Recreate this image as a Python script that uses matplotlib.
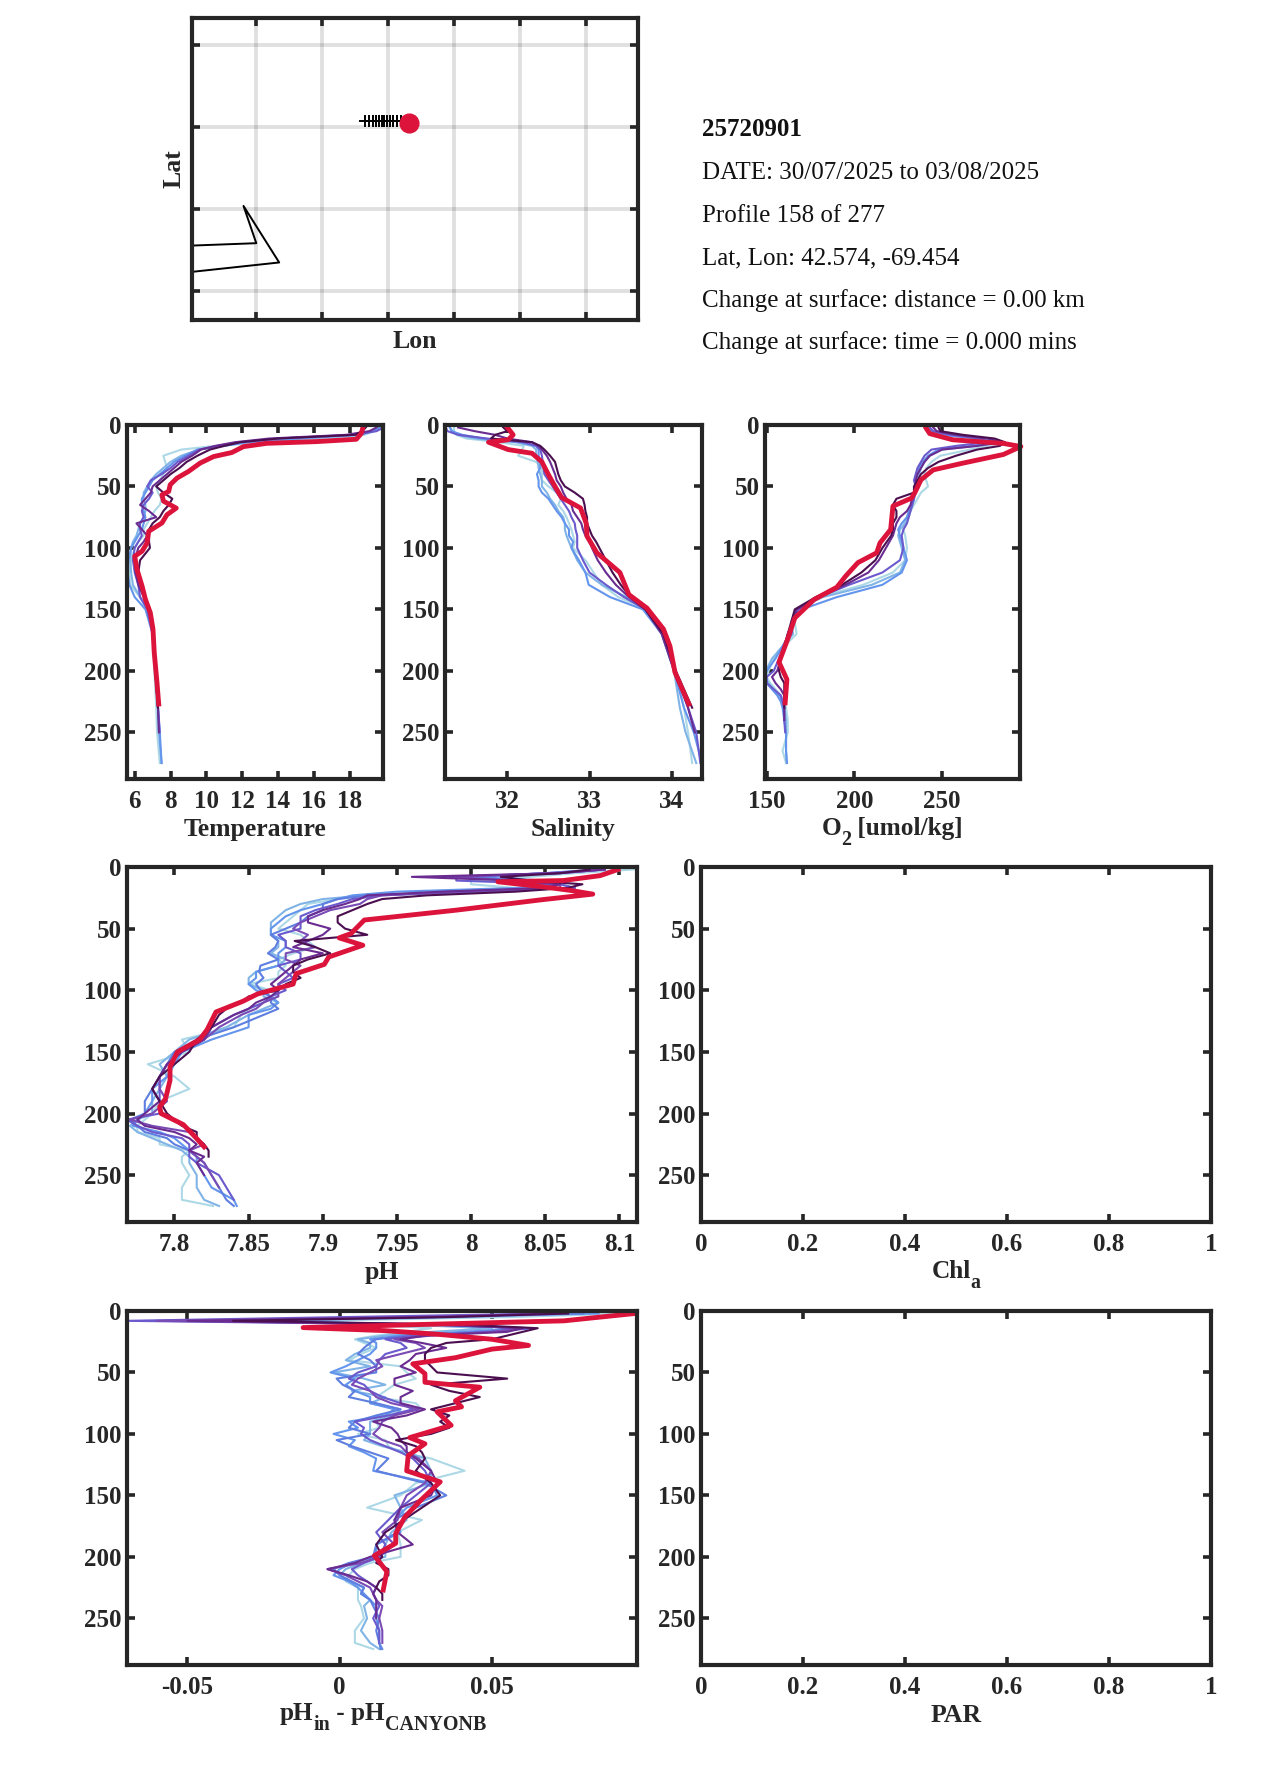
import matplotlib
matplotlib.use('Agg')
import matplotlib.pyplot as plt

plt.rcParams['font.family'] = ['Liberation Serif', 'DejaVu Serif']
plt.rcParams['font.weight'] = 'bold'

DARK = '#262626'
RED = '#dc143c'
profile_colors = ['#add8e6', '#80b4e6', '#6495ed', '#6a5acd', '#6a2c91', '#4b0f50']
dense_colors = ['#add8e6', '#80b4e6', '#6495ed', '#5f7fe0', '#6a5acd', '#7a4bb5', '#6a2c91', '#4b0f50']

# depth grids shared by the thin profiles
z_ctd = [2,5,8,11,14,17,20,25,30,35,40,45,50,55,60,65,70,75,80,85,90,95,100,110,120,130,140,150,170,200,230,250,275]
z_oxy = [2,5,8,11,14,17,20,25,30,35,40,45,50,55,60,65,70,75,80,85,90,100,110,120,130,140,150,160,170,180,190,200,205,210,215,220,225,230,240,250,265,275]
z_ph = [2,5,8,11,14,17,20,23,26,30,35,40,45,50,55,60,65,70,75,80,85,90,95,100,105,110,115,120,130,140,150,160,170,180,190,200,205,210,215,220,225,230,235,240,250,260,270,275]

# temperature
temp_1 = [19.8,19.4,18.8,17,13.5,10.5,8.6,7.6,7.7,7.8,7.6,7.4,7.2,7.3,7.5,7.4,7.1,6.9,6.7,6.5,6.5,6.2,6.0,5.8,5.7,5.75,6.3,6.7,7.0,7.1,7.2,7.25,7.4]
temp_2 = [19.6,19.2,18.3,15.5,12,10.8,9.6,8.6,8,7.6,7.2,6.9,6.7,6.5,6.5,6.6,6.6,6.5,6.3,6.2,6.1,5.9,5.8,5.75,5.8,5.9,6.3,6.8,7.0,7.15,7.3,7.35,7.5]
temp_3 = [19.7,19.3,18.6,15,12.3,11,9.5,8.8,8.2,7.8,7.4,7,6.8,6.6,6.4,6.4,6.5,6.6,6.5,6.4,6.2,6,5.8,5.65,5.6,5.7,6,6.6,7,7.15,7.3,7.4,7.5]
temp_4 = [19.9,19.5,18.2,14,11.8,10.6,9.6,9,8.4,8,7.5,6.9,6.7,7.0,6.8,6.5,6.4,6.5,6.3,6.3,6.4,6.2,6,5.9,6,6.2,6.3,6.7,7,7.15,7.3,7.4]
temp_5 = [19.5,19.1,17.8,13.5,11.6,10.5,9.7,9.2,8.6,8.2,7.8,7.4,7,6.9,6.6,6.3,6.8,7.2,6.1,6.4,6.7,6.5,6.2,6.0,6.05,6.2,6.5,6.85,7.05,7.15,7.3,7.35]
temp_6 = [18.9,18.7,18.3,14,11.9,11,10.2,9.5,8.9,8.5,8,7.6,7.2,7.6,8.1,7.9,7.6,7.4,7.0,6.8,6.8,6.8,6.85,6.3,6.2,6.4,6.6,6.85,7.05,7.15,7.3]
temp_red = [18.75,18.65,18.37,16.15,13.37,12.07,11.42,10.4,9.65,9.0,8.36,7.98,7.9,7.52,7.61,8.32,7.8,7.52,6.78,6.69,6.41,6.0,6.13,6.41,6.6,6.87,7.02,7.09,7.24,7.34]
temp_red_z = [1.4,6.8,11.6,13.5,14.9,17.6,22.4,25.7,31,37.8,43.2,48.6,54,56.8,62,67.6,73,79.7,86.5,96,102.7,106.8,117.6,131,142,152.7,166,185,209,227]

# salinity
sal_1 = [31.35,31.35,31.38,31.5,31.9,32.2,32.18,32.13,32.35,32.42,32.42,32.42,32.5,32.6,32.65,32.62,32.68,32.72,32.75,32.78,32.8,32.82,32.8,32.95,33.05,33.15,33.35,33.7,33.88,34.05,34.15,34.2,34.25]
sal_2 = [31.3,31.33,31.4,31.6,32.1,32.3,32.35,32.35,32.37,32.38,32.4,32.42,32.42,32.48,32.52,32.58,32.62,32.68,32.7,32.7,32.72,32.75,32.78,32.85,32.95,33.15,33.45,33.68,33.88,34.03,34.1,34.17,34.3]
sal_3 = [31.3,31.32,31.45,31.7,32.15,32.35,32.38,32.38,32.4,32.4,32.36,32.38,32.38,32.42,32.5,32.55,32.6,32.66,32.7,32.75,32.75,32.8,32.78,32.87,32.95,32.99,33.25,33.65,33.88,34.03,34.15,34.27,34.37]
sal_4 = [31.25,31.27,31.4,31.75,32.2,32.35,32.4,32.42,32.43,32.44,32.45,32.5,32.55,32.6,32.65,32.7,32.75,32.78,32.82,32.83,32.85,32.85,32.85,32.92,33.0,33.2,33.42,33.68,33.9,34.05,34.2,34.3,34.35]
sal_5 = [31.4,31.6,31.85,32.0,32.3,32.38,32.42,32.48,32.52,32.55,32.58,32.6,32.65,32.68,32.72,32.78,32.8,32.85,32.9,32.92,32.95,33.0,33.03,33.1,33.2,33.32,33.48,33.68,33.88,34.03,34.2,34.28]
sal_6 = [31.95,32.0,31.85,31.8,32.3,32.4,32.45,32.52,32.58,32.6,32.62,32.65,32.7,32.82,32.92,32.94,32.95,32.97,32.97,33.0,33.03,33.08,33.12,33.2,33.28,33.38,33.5,33.68,33.9,34.05,34.25]
sal_red = [32.0,32.07,32.01,31.77,32.01,32.3,32.42,32.5,32.58,32.66,32.89,32.96,32.97,33.09,33.37,33.48,33.7,33.9,33.98,34.04,34.15,34.21]
sal_red_z = [2,8,12,14,20,23,30,40.5,50,59,67.5,80,90.5,104,120,138,149,166,180,201,218,227]

# oxygen
oxy_1 = [241,243,252,272,284,276,266,249,244,241,240,241,242,238,236,234,232,230,228,228,229,230,229,222,205,180,168,166,167,160,154,151,150,152,155,158,160,161,162,162,159,161]
oxy_2 = [242,244,255,274,282,270,250,243,240,238,237,237,237,235,234,233,232,231,229,226,225,227,229,226,210,182,167,164,165,159,153,149.5,149,151,154,157,159,160,161,161,161,161.5]
oxy_3 = [242,243,250,270,280,268,248,242,239,237,236,235,236,235,234,233,231,230,227,225,226,228,230,227,216,190,170,165,163,159,155,150,149,150,153,156,158,159,160,161,161,161.5]
oxy_4 = [243,245,255,272,276,258,244,240,238,236,235,234,235,234,234,233,232,231,230,228,227,228,226,216,197,180,168,165,164,160,157,154,150,150,154,158,159,160,160,160.5]
oxy_5 = [245,247,258,276,284,270,250,243,240,238,236,235,235,234,233,232,230,226,224,223,222,218,214,208,195,180,167,165,162,160,158,156,153,155,158,160,160,160,160]
oxy_6 = [248,249,262,280,286,283,270,258,248,242,238,236,234,234,224,222,224,224,222,222,221,216,212,204,193,178,166,164,162,160,158,157,158,160,160,160,160,160]
oxy_red = [241,243,256,285,295,285,262,245,238,234.5,232.6,222,220.7,214.6,212.7,202,195,190,177,166,162,157,161.5,160.5]
oxy_red_z = [2.7,7,12,15,17.5,24,31,36.5,44.6,55,59.5,66,85,96,104,112,123,132,142,157,174,193,207,226]

# pH
ph_1 = [8.11,8.07,8.04,8.0,8.0,8.03,7.98,7.93,7.91,7.89,7.885,7.88,7.875,7.87,7.885,7.89,7.895,7.88,7.87,7.875,7.87,7.87,7.85,7.865,7.87,7.86,7.85,7.845,7.84,7.805,7.81,7.782,7.80,7.81,7.79,7.785,7.78,7.775,7.775,7.79,7.79,7.81,7.805,7.805,7.81,7.805,7.805,7.826]
ph_2 = [8.09,8.06,8.02,8.04,8.06,8.07,8.0,7.93,7.9,7.885,7.875,7.87,7.865,7.865,7.865,7.87,7.87,7.865,7.875,7.87,7.855,7.85,7.85,7.86,7.86,7.87,7.86,7.85,7.835,7.81,7.8,7.79,7.795,7.79,7.785,7.785,7.775,7.77,7.775,7.785,7.795,7.805,7.81,7.81,7.815,7.815,7.82,7.83]
ph_3 = [8.09,8.05,8.0,8.05,8.06,8.03,7.95,7.92,7.91,7.9,7.885,7.875,7.87,7.865,7.865,7.875,7.875,7.87,7.87,7.87,7.855,7.855,7.85,7.855,7.865,7.87,7.865,7.85,7.85,7.825,7.805,7.8,7.795,7.785,7.785,7.78,7.775,7.772,7.79,7.8,7.805,7.81,7.815,7.815,7.82,7.825,7.84,7.842]
ph_4 = [8.09,8.06,7.99,7.99,8.06,8.07,8.0,7.94,7.92,7.91,7.895,7.885,7.885,7.885,7.87,7.875,7.875,7.885,7.885,7.87,7.875,7.88,7.87,7.875,7.865,7.86,7.85,7.84,7.825,7.82,7.805,7.795,7.79,7.79,7.79,7.79,7.768,7.775,7.785,7.805,7.81,7.81,7.81,7.815,7.83,7.835,7.84]
ph_5 = [8.09,8.06,7.96,8.03,8.06,8.05,7.98,7.93,7.925,7.915,7.9,7.89,7.89,7.905,7.9,7.89,7.88,7.9,7.885,7.88,7.875,7.87,7.865,7.87,7.865,7.855,7.85,7.84,7.825,7.82,7.805,7.795,7.79,7.785,7.79,7.78,7.775,7.78,7.8,7.81,7.815,7.81,7.82,7.815,7.82]
ph_6 = [8.08,8.06,8.02,8.04,8.075,8.065,8.03,7.97,7.94,7.93,7.92,7.91,7.91,7.915,7.93,7.881,7.895,7.905,7.89,7.88,7.88,7.885,7.875,7.87,7.85,7.845,7.835,7.83,7.825,7.815,7.81,7.8,7.79,7.785,7.79,7.795,7.8,7.805,7.815,7.815,7.82,7.823,7.823]
ph_7 = [8.085,8.05,8.0,8.03,8.05,8.05,8.0,7.93,7.91,7.9,7.9,7.89,7.885,7.875,7.865,7.87,7.868,7.863,7.87,7.858,7.857,7.86,7.855,7.858,7.865,7.865,7.87,7.86,7.84,7.815,7.80,7.795,7.79,7.785,7.78,7.78,7.77,7.775,7.78,7.795,7.8,7.81,7.815,7.82,7.825,7.83,7.835,7.84]
ph_8 = [8.09,8.055,7.985,8.03,8.06,8.06,7.99,7.94,7.93,7.925,7.905,7.895,7.885,7.88,7.89,7.885,7.895,7.875,7.875,7.885,7.88,7.875,7.87,7.87,7.87,7.86,7.855,7.845,7.83,7.82,7.805,7.795,7.79,7.79,7.795,7.785,7.77,7.785,7.81,7.815,7.82,7.81,7.815,7.82,7.825,7.83]
ph_red = [8.099,8.087,8.062,8.018,8.048,8.067,8.082,8.048,7.99,7.928,7.919,7.911,7.927,7.904,7.901,7.882,7.88,7.856,7.846,7.828,7.822,7.817,7.802,7.797,7.797,7.794,7.79,7.791,7.806,7.814,7.82]
ph_red_z = [2,7,11,12,16,19,22,26.5,35,43,54,57.5,63.5,73,79,86.5,95,103,109,117.6,132,140,150,162,173,188,194.6,200,209,219,227]

# pH minus CANYON-B
dph_1 = [.095,.055,-.01,.01,.03,.022,.012,.005,.008,.012,.007,.003,.02,.022,.025,.018,.015,.012,.025,.027,.012,.012,.013,.006,.015,.016,.02,.03,.041,.025,.02,.009,.027,.019,.02,.02,.01,.005,.003,.002,.006,.006,.006,.007,.008,.005,.005,.011]
dph_2 = [.08,.04,-.02,.02,.05,.03,.015,.006,.01,.01,.005,.002,.01,-.002,.008,.015,.004,.015,.01,.02,.018,.01,.01,.01,.008,.014,.022,.028,.03,.03,.018,.02,.022,.017,.015,.015,.007,.002,.0,.003,.008,.007,.01,.008,.009,.007,.01,.013]
dph_3 = [.085,.03,-.03,.03,.06,.04,.02,.01,.012,.012,.01,.006,.002,-.003,.005,.002,.005,.01,.01,.018,.015,.003,.006,-.002,.005,.003,.008,.012,.011,.03,.032,.022,.018,.02,.012,.012,.004,.0,-.002,.003,.006,.008,.01,.012,.012,.013,.013,.014]
dph_4 = [.07,.0,-.07,.03,.063,.05,.025,.015,.02,.022,.015,.013,.012,.006,.003,.008,.01,.014,.02,.024,.016,.005,.008,.007,.01,.015,.02,.024,.028,.03,.025,.02,.016,.012,.015,.013,.008,.004,.006,.009,.012,.011,.012,.013,.011,.013,.013]
dph_5 = [.07,.03,-.05,.03,.06,.055,.028,.02,.027,.035,.025,.023,.02,.025,.018,.018,.024,.02,.02,.028,.022,.011,.017,.019,.02,.022,.022,.025,.03,.032,.03,.02,.018,.019,.024,.01,.005,-.004,.003,.009,.012,.011,.012,.012,.012]
dph_6 = [.075,.035,-.035,.04,.065,.06,.055,.05,.035,.03,.028,.028,.03,.032,.055,.03,.036,.046,.038,.03,.036,.033,.036,.03,.0185,.025,.027,.028,.025,.03,.033,.027,.021,.015,.012,.014,.012,.016,.016,.013,.012,.014,.014]
dph_7 = [.08,.02,-.04,.03,.062,.045,.022,.012,.01,.008,.006,.01,.012,.012,-.001,.001,.005,.003,.012,.02,.012,.005,.003,.01,-.001,.004,.01,.016,.012,.028,.035,.025,.018,.019,.012,.011,.003,-.002,.0,.004,.008,.007,.01,.011,.013,.012,.013,.0135]
dph_8 = [.075,.02,-.06,.035,.06,.05,.03,.018,.025,.028,.02,.012,.014,.01,.006,.004,.01,.012,.017,.026,.018,.014,.013,.011,.014,.02,.022,.026,.03,.028,.022,.02,.019,.014,.018,.013,.007,-.004,.002,.006,.01,.011,.012,.014,.013,.014,.014]
dph_red = [.097,.0736,.0266,-.012,.015,.0325,.05,.062,.05,.038,.024,.028,.028,.046,.038,.04,.032,.0366,.023,.028,.0225,.022,.033,.0266,.0214,.0184,.0184,.0114,.0155,.0143]
dph_red_z = [2,8,11,13.5,16,19,23,28,31,38,43,51,58,62,73,78,82,93,103,108,117.6,130,139,154,167.6,181,189,199,212,227]

# map
track_lon = [-69.553,-69.545,-69.536,-69.528,-69.521,-69.515,-69.509,-69.503,-69.497,-69.49,-69.481,-69.472]
track_lat = [42.58,42.58,42.58,42.58,42.58,42.58,42.58,42.58,42.58,42.58,42.58,42.58]
float_lon = -69.454
float_lat = 42.574
coast_lon = [-70.1,-69.8,-69.829,-69.748,-70.1]
coast_lat = [42.19,42.205,42.319,42.146,42.095]
lon_ticks = [-69.8,-69.65,-69.5,-69.35,-69.2,-69.05]
lat_ticks = [42.06,42.31,42.56,42.81]

info_lines = ['25720901', 'DATE: 30/07/2025 to 03/08/2025', 'Profile 158 of 277', 'Lat, Lon: 42.574, -69.454',
              'Change at surface: distance = 0.00 km', 'Change at surface: time = 0.000 mins']
info_y = [130, 173, 216, 258, 301, 343]

depth_ticks = [0, 50, 100, 150, 200, 250]

W, H = 1275, 1771
fig = plt.figure(figsize=(W / 100, H / 100), dpi=100)


def make_axes(x0, x1, y0, y1):
    ax = fig.add_axes([x0 / W, 1 - y1 / H, (x1 - x0) / W, (y1 - y0) / H])
    for s in ax.spines.values():
        s.set_linewidth(3.0)
        s.set_color(DARK)
    ax.tick_params(direction='in', top=True, right=True, length=6, width=2.6, color=DARK,
                   labelcolor=DARK, labelsize=18)
    ax.tick_params(axis='x', pad=8)
    ax.tick_params(axis='y', pad=4)
    return ax


def profile_axes(x0, x1, y0, y1, xlim, xticks, xticklabels, xlabel=None):
    ax = make_axes(x0, x1, y0, y1)
    ax.set_xlim(xlim)
    ax.set_ylim(288, 0)
    ax.set_xticks(xticks)
    ax.set_xticklabels(xticklabels)
    ax.set_yticks(depth_ticks)
    if xlabel:
        ax.set_xlabel(xlabel, fontsize=18.5, fontweight='bold', color=DARK, labelpad=3.5)
    return ax


def draw_profiles(ax, series, z, red, red_z, colors=profile_colors):
    for vals, c in zip(series, colors):
        ax.plot(vals, z[:len(vals)], color=c, lw=1.5)
    ax.plot(red, red_z, color=RED, lw=3.5, clip_on=False, solid_joinstyle='round')


# axis labels with a low subscript, put together piece by piece
def sub_label(cx, base_y, parts):
    rend = fig.canvas.get_renderer()
    pieces = []
    total = 0
    for txt, is_sub in parts:
        t = fig.text(0, 1 - (base_y + (10 if is_sub else 0)) / H, txt, fontsize=14.4 if is_sub else 18.2,
                     fontweight='bold', color=DARK, va='baseline', ha='left')
        w = t.get_window_extent(rend).width
        pieces.append((t, w))
        total += w
    x = cx - total / 2
    for t, w in pieces:
        t.set_x(x / W)
        x += w


# location map
ax = make_axes(192, 638, 18, 320)
ax.set_xlim(-69.946, -68.933)
ax.set_ylim(41.97, 42.894)
ax.set_xticks(lon_ticks)
ax.set_yticks(lat_ticks)
ax.set_xticklabels([])
ax.set_yticklabels([])
ax.grid(True, color='k', alpha=0.12, lw=2.8)
ax.plot(coast_lon, coast_lat, color='k', lw=1.4)
ax.plot(track_lon, track_lat, color='k', lw=1.4, marker='+', ms=9, mew=1.4)
ax.plot(float_lon, float_lat, 'o', color=RED, ms=13.5)
ax.set_xlabel('Lon', fontsize=18.5, fontweight='bold', color=DARK, labelpad=-0.5)
ax.set_ylabel('Lat', fontsize=18.5, fontweight='bold', color=DARK, labelpad=0.5)

for i, (txt, y) in enumerate(zip(info_lines, info_y)):
    fig.text(702 / W, 1 - y / H, txt, fontsize=18, color='#111111', va='center',
             fontweight='bold' if i == 0 else 'normal')

# upper row
ax = profile_axes(127, 383, 425, 779, (5.57, 19.86), [6, 8, 10, 12, 14, 16, 18],
                  ['6', '8', '10', '12', '14', '16', '18'], 'Temperature')
draw_profiles(ax, [temp_1, temp_2, temp_3, temp_4, temp_5, temp_6], z_ctd, temp_red, temp_red_z)

ax = profile_axes(445, 702, 425, 779, (31.24, 34.37), [32, 33, 34], ['32', '33', '34'], 'Salinity')
draw_profiles(ax, [sal_1, sal_2, sal_3, sal_4, sal_5, sal_6], z_ctd, sal_red, sal_red_z)

ax = profile_axes(765, 1020, 425, 779, (149, 294.5), [150, 200, 250], ['150', '200', '250'])
draw_profiles(ax, [oxy_1, oxy_2, oxy_3, oxy_4, oxy_5, oxy_6], z_oxy, oxy_red, oxy_red_z)
sub_label(892, 835, [('O', False), ('2', True), (' [umol/kg]', False)])

# middle row
ax = profile_axes(127, 637, 867, 1222, (7.768, 8.1118), [7.8, 7.85, 7.9, 7.95, 8, 8.05, 8.1],
                  ['7.8', '7.85', '7.9', '7.95', '8', '8.05', '8.1'], 'pH')
draw_profiles(ax, [ph_1, ph_2, ph_3, ph_7, ph_4, ph_8, ph_5, ph_6], z_ph, ph_red, ph_red_z, dense_colors)

unit_ticks = [0, 0.2, 0.4, 0.6, 0.8, 1]
unit_labels = ['0', '0.2', '0.4', '0.6', '0.8', '1']
profile_axes(701, 1211, 867, 1222, (0, 1), unit_ticks, unit_labels)
sub_label(956, 1278, [('Chl', False), ('a', True)])

# lower row
ax = profile_axes(127, 637, 1311, 1665, (-0.0698, 0.0976), [-0.05, 0, 0.05], ['-0.05', '0', '0.05'])
draw_profiles(ax, [dph_1, dph_2, dph_3, dph_7, dph_4, dph_8, dph_5, dph_6], z_ph, dph_red, dph_red_z, dense_colors)
sub_label(383, 1720, [('pH', False), ('in', True), (' - pH', False), ('CANYONB', True)])

profile_axes(701, 1211, 1311, 1665, (0, 1), unit_ticks, unit_labels, 'PAR')

fig.savefig('out.png', dpi=100, facecolor='white')
